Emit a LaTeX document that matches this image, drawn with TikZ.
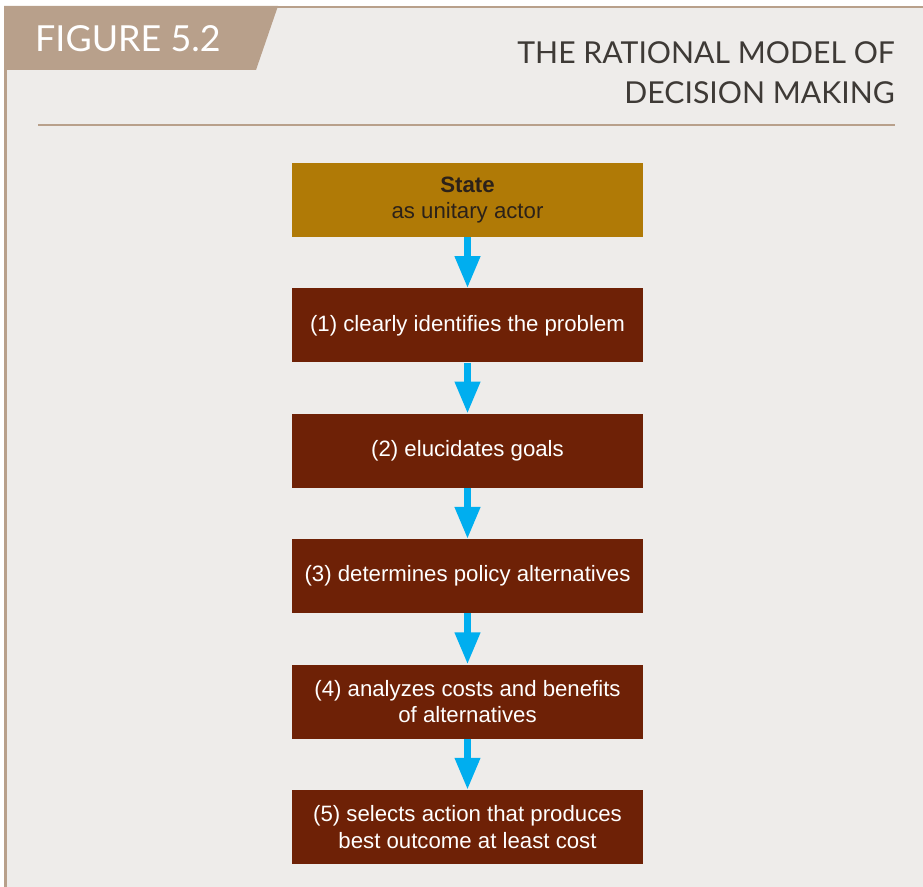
\documentclass[tikz,border=0pt]{standalone}
\usepackage{fontspec}
\newfontfamily\headfont{Lato}
\newfontfamily\boxfont{Liberation Sans}
\usetikzlibrary{positioning, arrows.meta}
\definecolor{tabtan}{HTML}{B8A08B}
\definecolor{panelgray}{HTML}{EEECEA}
\definecolor{stategold}{HTML}{B07A06}
\definecolor{statetext}{HTML}{2B2119}
\definecolor{stepbrown}{HTML}{6E2106}
\definecolor{arrowcyan}{HTML}{00AEEF}
\definecolor{headgray}{HTML}{3E3A36}
\tikzset{
    %Define style for boxes
    boite/.style={
           rectangle,
           fill=stepbrown,
           text=white,
           minimum width=351bp,
           minimum height=74bp,
           inner sep=0pt,
           align=center,
           font=\boxfont\fontsize{22.3}{26.5}\selectfont},
    acteur/.style={boite, fill=stategold, text=statetext},
    % Define arrow style
    fleche/.style={
           -{Triangle[width=24bp,length=32bp]},
           line width=7bp,
           draw=arrowcyan}
}

\begin{document}
\begin{tikzpicture}[x=1bp, y=1bp, node distance=51bp]
	%
	% fond
	%
	\useasboundingbox (0,0) rectangle (923,887);
	\fill[white] (0,0) rectangle (923,887);
	\fill[tabtan] (4,0) rectangle (923,881);
	\fill[panelgray] (7,0) rectangle (923,878.5);
	\fill[tabtan] (4,881) -- (278,881) -- (256,817) -- (4,817) -- cycle;
	\draw[tabtan, line width=2bp] (38,762) -- (895,762);
	\node[anchor=base west, inner sep=0pt, text=white,
	      font=\headfont\fontsize{36}{40}\selectfont] (fig) at (35,835) {FIGURE 5.2};
	\node[anchor=base east, inner sep=0pt, text=headgray, align=right,
	      font=\headfont\fontsize{30.3}{41}\selectfont] (titre) at (895,783)
	      {THE RATIONAL MODEL OF\\DECISION MAKING};
	%
	% noeuds
	%
	\node[acteur] (state) at (467.5,687) {\textbf{State}\\as unitary actor};
	\node[boite, below = of state] (ident) {(1) clearly identifies the problem};
	\node[boite, below = of ident] (goals) {(2) elucidates goals};
	\node[boite, below = of goals] (alter) {(3) determines policy alternatives};
	\node[boite, below = of alter] (costs) {(4) analyzes costs and benefits\\of alternatives};
	\node[boite, below = of costs] (select) {(5) selects action that produces\\best outcome at least cost};
	%
	% Liens
	%
	\draw[fleche] (state) -- (ident);
	\draw[fleche] (ident) -- (goals);
	\draw[fleche] (goals) -- (alter);
	\draw[fleche] (alter) -- (costs);
	\draw[fleche] (costs) -- (select);
\end{tikzpicture}
\end{document}
